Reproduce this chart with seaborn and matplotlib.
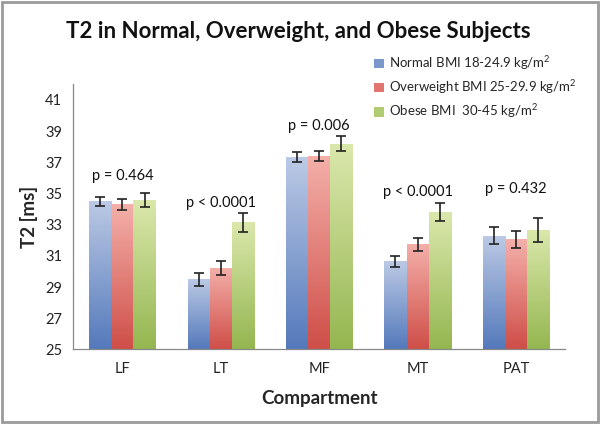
import numpy as np
import pandas as pd
import matplotlib
matplotlib.use("Agg")
import matplotlib.pyplot as plt
import seaborn as sns
from matplotlib.colors import LinearSegmentedColormap
from matplotlib.patches import Rectangle
from matplotlib.container import BarContainer

# ---- data ----
categories = ["LF", "LT", "MF", "MT", "PAT"]
groups = ["Normal BMI 18-24.9 kg/m$^{2}$",
          "Overweight BMI 25-29.9 kg/m$^{2}$",
          "Obese BMI  30-45 kg/m$^{2}$"]
normal_vals = [34.5, 29.5, 37.35, 30.65, 32.3]
over_vals = [34.3, 30.25, 37.4, 31.75, 32.05]
obese_vals = [34.6, 33.15, 38.2, 33.8, 32.65]
normal_err = [0.3, 0.43, 0.3, 0.37, 0.52]
over_err = [0.35, 0.45, 0.33, 0.42, 0.57]
obese_err = [0.45, 0.63, 0.5, 0.58, 0.77]
p_labels = ["p = 0.464", "p < 0.0001", "p = 0.006", "p < 0.0001", "p = 0.432"]
p_y = [36.15, 34.4, 39.35, 35.1, 35.3]
yticks = [25, 27, 29, 31, 33, 35, 37, 39, 41]

sns.set_style("white")
plt.rcParams["font.family"] = ["Lato", "DejaVu Sans"]
plt.rcParams["mathtext.fontset"] = "custom"
plt.rcParams["mathtext.rm"] = "Lato"
plt.rcParams["mathtext.it"] = "Lato"
plt.rcParams["mathtext.bf"] = "Lato:bold"

df = pd.DataFrame({
    "Compartment": categories * 3,
    "group": [groups[0]] * 5 + [groups[1]] * 5 + [groups[2]] * 5,
    "T2": normal_vals + over_vals + obese_vals,
})

base_cols = ["#7A98CC", "#E27570", "#B0CB70"]
grad = [("#BCCAE5", "#5479BB"), ("#F4B0AA", "#CF4E48"), ("#DBE8AC", "#94B650")]

fig = plt.figure(figsize=(6.0, 4.24), dpi=100)
ax = fig.add_axes([0.122, 0.176, 0.820, 0.625])

sns.barplot(data=df, x="Compartment", y="T2", hue="group", order=categories,
            hue_order=groups, palette=base_cols, width=0.675, dodge=True,
            errorbar=None, ax=ax, saturation=1, legend=True, linewidth=0)

# gradient fill and error bars per bar
errs = [normal_err, over_err, obese_err]
bar_conts = [c for c in ax.containers if isinstance(c, BarContainer)][:3]
for gi, cont in enumerate(bar_conts):
    cmap = LinearSegmentedColormap.from_list("g", [grad[gi][1], grad[gi][0]])
    for ci, bar in enumerate(cont):
        x0 = bar.get_x()
        w = bar.get_width()
        top = bar.get_y() + bar.get_height()
        img = np.linspace(0, 1, 256).reshape(-1, 1)
        im = ax.imshow(img, cmap=cmap, origin="lower", aspect="auto",
                       extent=[x0, x0 + w, 25, top], zorder=bar.get_zorder() + 0.1,
                       interpolation="bicubic")
        im.set_clip_path(bar)
        ax.errorbar(x0 + w / 2, top, yerr=errs[gi][ci], fmt="none",
                    ecolor="#222222", elinewidth=1.2, capsize=3.5,
                    capthick=1.2, zorder=5)
ax.set_xlim(-0.5, 4.5)
ax.set_ylim(25, 42)

for i, (lab, yy) in enumerate(zip(p_labels, p_y)):
    ax.text(i, yy, lab, ha="center", va="center", fontsize=10.5, color="#111111")

# axes styling
ax.set_yticks(yticks)
ax.set_yticklabels([str(t) for t in yticks], fontsize=10.5, color="#222222")
ax.set_xticks(range(len(categories)))
ax.set_xticklabels(categories, fontsize=10.5, color="#222222")
ax.set_xticks(np.arange(-0.5, 5, 1.0), minor=True)
ax.tick_params(axis="x", which="major", length=0, pad=9)
ax.tick_params(axis="x", which="minor", length=5, color="#888888", direction="out")
ax.tick_params(axis="y", which="major", length=4, color="#888888", direction="out", pad=4)
for s in ["top", "right"]:
    ax.spines[s].set_visible(False)
for s in ["left", "bottom"]:
    ax.spines[s].set_color("#888888")
    ax.spines[s].set_linewidth(0.9)
ax.set_xlabel("Compartment", fontsize=13.5, fontweight="bold", labelpad=10)
ax.set_ylabel("T2 [ms]", fontsize=13.5, fontweight="bold", labelpad=5)

# legend
handles, labels = ax.get_legend_handles_labels()
if ax.get_legend() is not None:
    ax.get_legend().remove()
fig.legend(handles, labels, loc="upper left", bbox_to_anchor=(0.615, 0.885),
           frameon=False, fontsize=9.5, handlelength=0.75, handleheight=0.75,
           handletextpad=0.4, labelspacing=0.48, borderaxespad=0)

fig.text(0.497, 0.925, "T2 in Normal, Overweight, and Obese Subjects",
         ha="center", va="center", fontsize=16, fontweight="bold", color="#111111")

fig.patches.append(Rectangle((0.004, 0.005), 0.992, 0.99, transform=fig.transFigure,
                             fill=False, edgecolor="#9a9a9a", linewidth=2))

fig.savefig("out.png", dpi=100)
